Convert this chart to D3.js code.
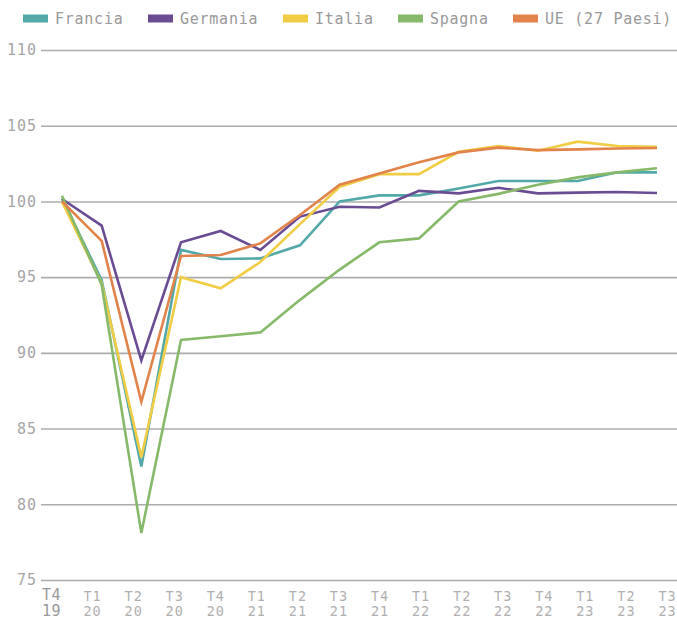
<!DOCTYPE html>
<html>
<head>
<meta charset="utf-8">
<script src="https://cdn.jsdelivr.net/npm/d3@7"></script>
<style>
  html, body { margin: 0; padding: 0; background: #fff; }
  svg { display: block; font-family: "DejaVu Sans Mono", "Liberation Mono", monospace; }
</style>
</head>
<body>
<svg id="chart" width="677" height="620"></svg>
<script>
const quarters = ["T4 19","T1 20","T2 20","T3 20","T4 20","T1 21","T2 21","T3 21","T4 21","T1 22","T2 22","T3 22","T4 22","T1 23","T2 23","T3 23"];
const seriesNames = ["Francia","Germania","Italia","Spagna","UE (27 Paesi)"];
const colors = ["#52a9a7","#6a4c93","#f0cd45","#87b96a","#e1834a"];
const francia  = [100.2, 94.8, 82.5, 96.8, 96.2, 96.24, 97.1, 100.0, 100.4, 100.4, 100.85, 101.35, 101.35, 101.35, 101.92, 101.92];
const germania = [100.16, 98.4, 89.5, 97.3, 98.05, 96.8, 99.0, 99.65, 99.6, 100.7, 100.53, 100.9, 100.53, 100.58, 100.62, 100.56];
const italia   = [99.98, 94.6, 83.1, 95.0, 94.26, 96.0, 98.5, 100.97, 101.8, 101.8, 103.28, 103.66, 103.35, 103.95, 103.66, 103.6];
const spagna   = [100.38, 94.5, 78.1, 90.85, 91.1, 91.35, 93.5, 95.5, 97.3, 97.56, 100.0, 100.5, 101.1, 101.59, 101.92, 102.19];
const ue       = [100.0, 97.4, 86.77, 96.4, 96.46, 97.23, 99.1, 101.1, 101.85, 102.58, 103.24, 103.55, 103.39, 103.44, 103.5, 103.53];
const yTicks = [75, 80, 85, 90, 95, 100, 105, 110];
const allSeries = [francia, germania, italia, spagna, ue];

const svg = d3.select("#chart");

const x = d3.scalePoint().domain(quarters).range([62, 657]);
const xLabel = d3.scalePoint().domain(quarters).range([51, 667]);
const y = d3.scaleLinear().domain([75, 110]).range([580, 50]);

// grid + y labels
const yAxis = d3.axisLeft(y).tickValues(yTicks).tickSize(-636).tickPadding(5).tickFormat(d3.format("d"));
const gy = svg.append("g").attr("transform", "translate(41,0)").call(yAxis);
gy.select(".domain").remove();
gy.selectAll(".tick line").attr("stroke", "#acacac").attr("stroke-width", 1.6);
gy.selectAll(".tick text").attr("fill", "#a6a6a6").attr("font-size", 15)
  .attr("letter-spacing", 1).attr("font-family", "DejaVu Sans Mono, monospace").attr("x", -4);

// x labels
const xAxis = d3.axisBottom(xLabel).tickSize(0).tickFormat("");
const gx = svg.append("g").attr("transform", "translate(0,580)").call(xAxis);
gx.select(".domain").remove();
gx.selectAll(".tick").each(function(d, i) {
  const parts = d.split(" ");
  const first = i === 0;
  const t = d3.select(this).append("text")
    .attr("text-anchor", "middle")
    .attr("fill", first ? "#999" : "#b0b0b0")
    .attr("font-size", first ? 15 : 13.5)
    .attr("letter-spacing", first ? 0.6 : 1)
    .attr("font-family", "DejaVu Sans Mono, monospace");
  t.append("tspan").attr("x", 0).attr("y", first ? 20 : 21).text(parts[0]);
  t.append("tspan").attr("x", 0).attr("y", 36).text(parts[1]);
});

// lines
const line = d3.line().x((d, i) => x(quarters[i])).y(d => y(d));
svg.append("g").selectAll("path").data(allSeries).join("path")
  .attr("d", line)
  .attr("fill", "none")
  .attr("stroke", (d, i) => colors[i])
  .attr("stroke-width", 2.6)
  .attr("stroke-linejoin", "miter");

// legend
const legendX = [23, 148, 283, 398, 513];
const lg = svg.append("g").selectAll("g").data(seriesNames).join("g")
  .attr("transform", (d, i) => `translate(${legendX[i]},0)`);
lg.append("rect").attr("x", 0).attr("y", 14.5).attr("width", 25).attr("height", 8)
  .attr("fill", (d, i) => colors[i]);
lg.append("text").attr("x", 32).attr("y", 23.5).text(d => d)
  .attr("fill", "#999").attr("font-size", 15).attr("letter-spacing", 0.75)
  .attr("font-family", "DejaVu Sans Mono, monospace");
</script>
</body>
</html>
